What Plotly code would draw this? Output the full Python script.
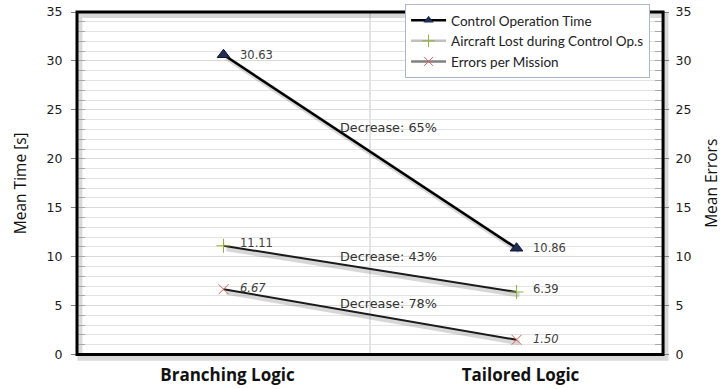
import plotly.graph_objects as go

# Chart data
categories = ["Branching Logic", "Tailored Logic"]
series_names = ["Control Operation Time", "Aircraft Lost during Control Op.s", "Errors per Mission"]
control_time = [30.63, 10.86]
aircraft_lost = [11.11, 6.39]
errors_mission = [6.67, 1.50]
decrease_labels = ["Decrease: 65%", "Decrease: 43%", "Decrease: 78%"]
y_ticks = [0, 5, 10, 15, 20, 25, 30, 35]

SANS = "DejaVu Sans"
TITLE_FONT = "Open Sans"
LEGEND_FONT = "Lato"
series = [control_time, aircraft_lost, errors_mission]

fig = go.Figure()

# soft drop shadows under each line, drawn on a slightly shifted subplot
for vals in series:
    fig.add_trace(go.Scatter(
        x=categories, y=vals, mode="lines", xaxis="x3", yaxis="y3",
        line=dict(color="rgba(110,110,110,0.28)", width=5),
        showlegend=False, hoverinfo="skip"))

# main lines, on a subplot sharing the main axes' domain (drawn above shadows)
fig.add_trace(go.Scatter(
    x=categories, y=control_time, mode="lines+markers", showlegend=False,
    xaxis="x4", yaxis="y4",
    line=dict(color="black", width=2.5),
    marker=dict(symbol="triangle-up", size=11, color="#1F2E55",
                line=dict(color="#0E1730", width=1))))
fig.add_trace(go.Scatter(
    x=categories, y=aircraft_lost, mode="lines+markers", showlegend=False,
    xaxis="x4", yaxis="y4",
    line=dict(color="#1a1a1a", width=2),
    marker=dict(symbol="cross-thin-open", size=10, color="#8DB33A",
                line=dict(color="#8DB33A", width=1))))
fig.add_trace(go.Scatter(
    x=categories, y=errors_mission, mode="lines+markers", showlegend=False,
    xaxis="x4", yaxis="y4",
    line=dict(color="#1a1a1a", width=2),
    marker=dict(symbol="x-thin-open", size=10, color="#D9605A",
                line=dict(color="#D9605A", width=1))))

# legend entries
legend_styles = [
    dict(line=dict(color="black", width=2.5),
         marker=dict(symbol="triangle-up", size=9, color="#1F2E55")),
    dict(line=dict(color="#BFBFBF", width=2.5),
         marker=dict(symbol="cross-thin-open", size=9, color="#8DB33A",
                     line=dict(color="#8DB33A", width=1))),
    dict(line=dict(color="#808080", width=2.5),
         marker=dict(symbol="x-thin-open", size=9, color="#D9605A",
                     line=dict(color="#D9605A", width=1))),
]
for name, st in zip(series_names, legend_styles):
    fig.add_trace(go.Scatter(x=[None], y=[None], mode="lines+markers",
                             name=name, **st))

# right-hand axis carrier
fig.add_trace(go.Scatter(x=categories, y=control_time, yaxis="y2", mode="none",
                         showlegend=False, hoverinfo="skip"))

annotations = []
label_font = dict(family=SANS, size=11.5, color="#404040")
italic_font = dict(family=SANS, size=11.5, color="#404040", style="italic")
for vals, fnt, yshift in [(control_time, label_font, 0),
                          (aircraft_lost, label_font, 3),
                          (errors_mission, italic_font, 1)]:
    for cat, v in zip(categories, vals):
        annotations.append(dict(
            x=cat, y=v, xref="x", yref="y", text=f"{v:.2f}",
            showarrow=False, xanchor="left", xshift=14, yshift=yshift,
            font=fnt))

for vals, txt, ysh in zip(series, decrease_labels, [24, 12.5, 11.5]):
    annotations.append(dict(
        x=0.5, y=(vals[0] + vals[1]) / 2, xref="x", yref="y", text=txt,
        showarrow=False, xanchor="left", xshift=-32, yshift=ysh,
        font=dict(family=SANS, size=12.8, color="#333333")))

shapes = [
    # category divider
    dict(type="line", xref="x", yref="y domain", x0=0.5, x1=0.5, y0=0, y1=1,
         line=dict(color="#C8C8C8", width=1), layer="below"),
    # frame shadow
    dict(type="rect", xref="x domain", yref="y domain", x0=0.005, x1=1.005,
         y0=-0.011, y1=0.99, line=dict(color="rgba(0,0,0,0.15)", width=5),
         layer="below"),
    # frame
    dict(type="rect", xref="x domain", yref="y domain", x0=0, x1=1, y0=0, y1=1,
         line=dict(color="black", width=3)),
]

X_DOM = [0, 0.995]
Y_DOM = [0.0099, 0.9774]

axis_common = dict(range=[0, 35], tickvals=y_ticks, ticks="outside",
                   ticklen=5, tickcolor="#808080", automargin=False,
                   tickfont=dict(family=SANS, size=12.5, color="#1a1a1a"),
                   zeroline=False)

fig.update_layout(
    width=722, height=389,
    margin=dict(l=77, r=56, t=4, b=31),
    paper_bgcolor="white", plot_bgcolor="rgba(0,0,0,0)",
    showlegend=True,
    legend=dict(x=0.557, y=1.0, xanchor="left", yanchor="top",
                bgcolor="white", bordercolor="#A9B8CE", borderwidth=1,
                font=dict(family=LEGEND_FONT, size=13.5, color="#222"),
                itemwidth=35),
    xaxis=dict(domain=X_DOM, type="category", range=[-0.5, 1.5],
               showgrid=False, ticks="", showline=False, automargin=False,
               ticklabelstandoff=9, ticklabelshift=4,
               tickfont=dict(family=TITLE_FONT, size=17, color="#111",
                             weight="bold")),
    yaxis=dict(domain=Y_DOM, showgrid=True, gridcolor="#D9D9D9",
               minor=dict(dtick=1, showgrid=True, gridcolor="#E3E3E3",
                          ticks="inside", ticklen=8, tickcolor="#A8A8A8"),
               ticklabelstandoff=6,
               title=dict(text="Mean Time [s]", standoff=16,
                          font=dict(family=TITLE_FONT, size=15.5, color="#111")),
               **axis_common),
    yaxis2=dict(overlaying="y", side="right", anchor="x", showgrid=False,
                minor=dict(dtick=1, ticks="inside", ticklen=8,
                           tickcolor="#A8A8A8"),
                ticklabelstandoff=4,
                title=dict(text="Mean Errors", standoff=20,
                           font=dict(family=TITLE_FONT, size=15.5, color="#111")),
                **axis_common),
    xaxis3=dict(domain=[0.0051, 1.0], type="category", range=[-0.5, 1.5],
                visible=False, anchor="y3"),
    yaxis3=dict(domain=[0.0014, 0.9689], range=[0, 35], visible=False,
                anchor="x3"),
    xaxis4=dict(domain=X_DOM, type="category", range=[-0.5, 1.5],
                visible=False, anchor="y4"),
    yaxis4=dict(domain=Y_DOM, range=[0, 35], visible=False, anchor="x4"),
    annotations=annotations,
    shapes=shapes,
)

fig.write_html("out.html")
